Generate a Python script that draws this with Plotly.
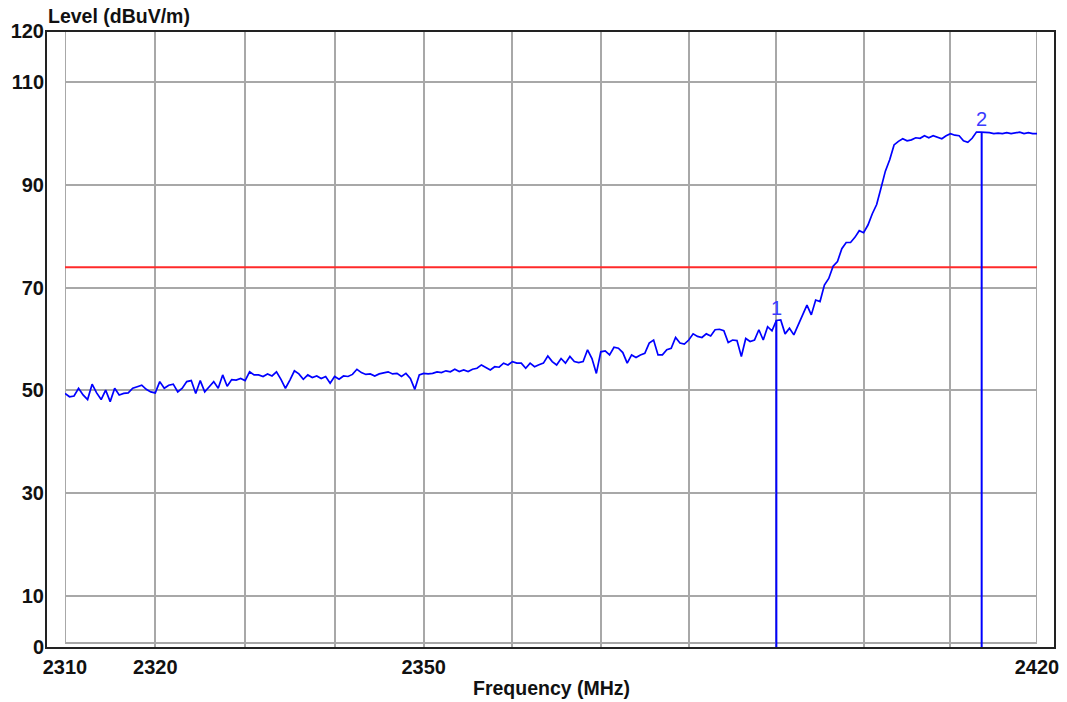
import math
import plotly.graph_objects as go

# ---------------- data ----------------
f_start = 2310.0
f_step = 0.5
levels = [
    # 2310 - 2331.5
    49.4, 48.75, 48.9, 50.4, 49.1, 48.2, 51.2, 49.5, 48.2, 50.05,
    47.8, 50.4, 49.1, 49.4, 49.5, 50.4, 50.7, 51.0, 50.2, 49.7,
    49.5, 51.7, 50.4, 51.0, 51.2, 49.7, 50.4, 51.7, 51.9, 49.4,
    51.9, 49.7, 50.7, 51.7, 50.4, 53.0, 50.8, 52.1, 52.0, 52.3,
    51.9, 53.6, 53.0, 53.0,
    # 2332 - 2353.5
    52.7, 53.2, 52.8, 53.6, 52.15, 50.4, 52.0, 53.8, 53.2, 52.15,
    53.0, 52.5, 52.8, 52.3, 52.7, 51.4, 52.7, 52.15, 52.8, 52.7,
    53.1, 54.1, 53.45, 53.1, 53.2, 52.8, 53.2, 53.45, 53.6, 53.2,
    53.3, 52.7, 53.3, 52.3, 50.2, 53.0, 53.3, 53.2, 53.3, 53.6,
    53.45, 53.8, 53.6, 54.1,
    # 2354 - 2375.5
    53.65, 53.97, 53.65, 54.1, 54.3, 54.95, 54.5, 53.97, 54.6, 54.5,
    55.3, 54.95, 55.6, 55.3, 55.3, 54.3, 55.3, 54.6, 55.0, 55.3,
    56.7, 55.6, 54.95, 56.2, 55.3, 56.6, 55.6, 55.4, 55.6, 57.9,
    56.2, 53.3, 57.5, 57.7, 56.9, 58.4, 58.2, 57.35, 55.3, 56.9,
    56.4, 56.9, 57.2, 59.2,
    # 2376 - 2397
    59.8, 56.9, 56.9, 57.9, 58.2, 60.3, 59.2, 59.0, 59.8,
    61.0, 60.5, 60.3, 61.0, 60.6, 61.8, 61.9, 61.6, 59.3, 59.8,
    59.7, 56.6, 60.1, 59.5, 59.8, 61.8, 59.8, 62.4, 61.6, 63.6,
    63.7, 61.0, 62.1, 60.8, 62.7, 64.7, 66.6, 64.7, 67.6, 67.3,
    70.5, 71.8, 74.2, 75.1,
    # 2397.5 - 2420
    77.6, 78.8, 78.8, 79.8, 81.1, 80.7,
    82.2, 84.4, 86.2, 89.4, 92.7, 94.9, 97.8, 98.5, 99.0, 98.6,
    98.8, 99.2, 99.1, 99.6, 99.2, 99.6, 99.3, 99.0, 99.6, 100.0,
    99.7, 99.6, 98.6, 98.3, 99.1, 100.3, 100.3, 100.3, 100.2, 100.0,
    100.1, 100.0, 100.2, 100.0, 100.1, 100.3, 100.0, 100.2, 100.0, 100.0,
]
freqs = [f_start + f_step * i for i in range(len(levels))]

limit_level = 74.0
marker_labels = ["1", "2"]
marker_freqs = [2390.0, 2413.6]
marker_levels = [63.6, 100.3]

x_tickvals = [2310, 2320, 2330, 2340, 2350, 2360, 2370, 2380, 2390, 2400, 2410, 2420]
x_ticktext = ["2310", "2320", "", "", "2350", "", "", "", "", "", "", "2420"]
y_tickvals = [0, 10, 30, 50, 70, 90, 110, 120]
y_ticktext = ["0", "10", "30", "50", "70", "90", "110", "120"]

x_min, x_max = 2310, 2420
y_min, y_max = 0, 120

# ---------------- figure ----------------
W, H = 1067, 702
ML, MR, MT, MB = 65, 30, 31, 55
pw = W - ML - MR
ph = H - MT - MB

FONT = "Liberation Sans, Arial, sans-serif"
BLUE = "#0000ff"

fig = go.Figure()

# limit line
fig.add_trace(go.Scatter(x=[x_min, x_max], y=[limit_level, limit_level], mode="lines",
                         line=dict(color="#ff2a2a", width=2), hoverinfo="skip"))

# measurement trace
fig.add_trace(go.Scatter(x=freqs, y=levels, mode="lines",
                         line=dict(color=BLUE, width=1.7), hoverinfo="skip"))

# marker lines
for f, lv in zip(marker_freqs, marker_levels):
    fig.add_trace(go.Scatter(x=[f, f], y=[y_min, lv], mode="lines",
                             line=dict(color=BLUE, width=2), hoverinfo="skip"))

# marker labels
for lab, f, lv in zip(marker_labels, marker_freqs, marker_levels):
    fig.add_annotation(x=math.log10(f), y=lv, text=lab, showarrow=False,
                       xanchor="center", yanchor="bottom", yshift=0,
                       font=dict(family=FONT, size=20, color="#3a3aff"))

# gray inner box
fig.add_shape(type="rect", xref="x", yref="paper",
              x0=x_min, x1=x_max, y0=4 / ph, y1=1,
              line=dict(color="#a8a8a8", width=2), layer="below")
# black outer frame
fig.add_shape(type="rect", xref="paper", yref="paper",
              x0=(46 - ML) / pw, x1=(1055 - ML) / pw, y0=-1 / ph, y1=1,
              line=dict(color="#222222", width=2))

# titles
fig.add_annotation(xref="paper", yref="paper", x=(46 - ML) / pw, y=1 + (MT - 16) / ph,
                   text="<b>Level (dBuV/m)</b>", showarrow=False,
                   xanchor="left", yanchor="middle",
                   font=dict(family=FONT, size=19.5, color="#111111"))
fig.add_annotation(xref="paper", yref="paper", x=0.5, y=-(688 - (H - MB)) / ph,
                   text="<b>Frequency (MHz)</b>", showarrow=False,
                   xanchor="center", yanchor="middle",
                   font=dict(family=FONT, size=19.5, color="#111111"))

fig.update_layout(
    width=W, height=H, autosize=False,
    margin=dict(l=ML, r=MR, t=MT, b=MB, pad=0, autoexpand=False),
    paper_bgcolor="white", plot_bgcolor="white",
    showlegend=False,
    xaxis=dict(type="log", range=[math.log10(x_min), math.log10(x_max)],
               tickmode="array", tickvals=x_tickvals, ticktext=x_ticktext,
               showgrid=True, gridcolor="#a8a8a8", gridwidth=2,
               zeroline=False, showline=False, ticks="", automargin=False,
               ticklabelstandoff=6,
               tickfont=dict(family=FONT, size=20, color="#111111", weight="bold")),
    yaxis=dict(range=[y_min, y_max],
               tickmode="array", tickvals=y_tickvals, ticktext=y_ticktext,
               showgrid=True, gridcolor="#a8a8a8", gridwidth=2,
               zeroline=False, showline=False, ticks="", automargin=False,
               ticklabelstandoff=20,
               tickfont=dict(family=FONT, size=20, color="#111111", weight="bold")),
)

fig.write_html("out.html",
               config={"displayModeBar": False, "responsive": False},
               post_script="document.body.style.margin='0';document.body.style.overflow='hidden';")
